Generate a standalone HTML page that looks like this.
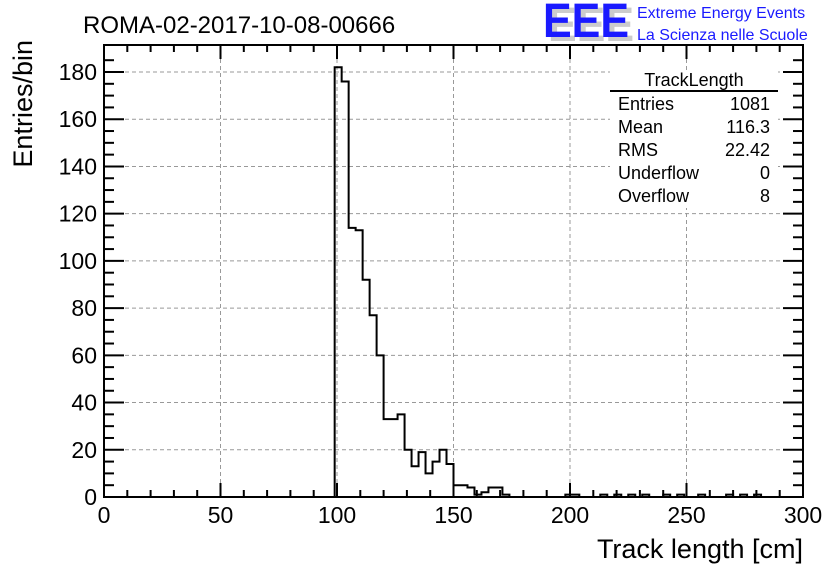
<!DOCTYPE html>
<html><head><meta charset="utf-8"><style>
body{margin:0;background:#fff}
svg{display:block;font-family:"Liberation Sans",sans-serif}
</style></head><body>
<svg id="c" width="836" height="572" viewBox="0 0 836 572">
<rect width="836" height="572" fill="#fff"/>
<text x="83" y="33" font-size="24">ROMA-02-2017-10-08-00666</text>
<g>
<text x="548" y="41" font-size="48" fill="#ccc" font-weight="bold" textLength="86" lengthAdjust="spacingAndGlyphs">EEE</text>
<text x="543" y="37" font-size="48" fill="#1a1aff" font-weight="bold" textLength="86" lengthAdjust="spacingAndGlyphs">EEE</text>
<text x="637" y="18" font-size="16" fill="#1a1aff">Extreme Energy Events</text>
<text x="637" y="40" font-size="16" fill="#1a1aff">La Scienza nelle Scuole</text>
</g>
<g id="grid"></g>
<g id="axes"></g>
<path id="hist" fill="none" stroke="#000" stroke-width="2"/>
<rect x="104" y="45" width="699" height="452" fill="none" stroke="#000" stroke-width="2"/>
<text x="32" y="40" font-size="27" transform="rotate(-90 32 40)" text-anchor="end">Entries/bin</text>
<text x="803" y="558" font-size="27" text-anchor="end">Track length [cm]</text>
<g font-size="18">
<rect x="610" y="70" width="168" height="138" fill="#fff"/>
<text x="694" y="86" text-anchor="middle">TrackLength</text>
<line x1="610" y1="91" x2="778" y2="91" stroke="#000" stroke-width="2"/>
<text x="618" y="110">Entries</text><text x="770" y="110" text-anchor="end">1081</text>
<text x="618" y="133">Mean</text><text x="770" y="133" text-anchor="end">116.3</text>
<text x="618" y="156">RMS</text><text x="770" y="156" text-anchor="end">22.42</text>
<text x="618" y="179">Underflow</text><text x="770" y="179" text-anchor="end">0</text>
<text x="618" y="202">Overflow</text><text x="770" y="202" text-anchor="end">8</text>
</g>
</svg>
<script>
const binStarts=[99,102,105,108,111,114,117,120,123,126,129,132,135,138,141,144,147,150,153,156,159,162,165,168,171,198,201,213,219,225,231,240,246,255,267,273,279];
const binCounts=[182,176,114,113,92,77,60,33,33,35,20,13,19,10,15,20,14,5,5,4,1,2,4,4,1,1,1,1,1,1,1,1,1,1,1,1,1];
const binWidth=3;
const xTicks=[0,50,100,150,200,250,300];
const yTicks=[0,20,40,60,80,100,120,140,160,180];
const X0=104,X1=803,Y0=497,Y1=72;
const xs=v=>X0+(v/300)*(X1-X0);
const ys=v=>Y0-(v/180)*(Y0-Y1);
const NS="http://www.w3.org/2000/svg";
const grid=document.getElementById('grid'),axes=document.getElementById('axes');
function mk(p,tag,attrs){const e=document.createElementNS(NS,tag);for(const k in attrs)e.setAttribute(k,attrs[k]);p.appendChild(e);return e;}
xTicks.forEach(t=>{
  if(t>0&&t<300){const g=mk(grid,'line',{x1:xs(t),x2:xs(t),y1:45,y2:497,stroke:'#999','stroke-dasharray':'4,3'});
  
  }
  const l=mk(axes,'text',{x:xs(t),y:523,'font-size':23,'text-anchor':'middle'});l.textContent=t;
  
  
});
yTicks.forEach(t=>{
  if(t>0){const g=mk(grid,'line',{x1:104,x2:803,y1:ys(t),y2:ys(t),stroke:'#999','stroke-dasharray':'4,3'});
  
  }
  const l=mk(axes,'text',{x:97,y:ys(t)+8,'font-size':23,'text-anchor':'end'});l.textContent=t;
  
  
});
for(let v=0;v<=300;v+=10){const L=v%50===0?14:7;
  mk(axes,'line',{x1:xs(v),x2:xs(v),y1:497,y2:497-L,stroke:'#000','stroke-width':2});
  mk(axes,'line',{x1:xs(v),x2:xs(v),y1:45,y2:45+L,stroke:'#000','stroke-width':2});}
for(let v=0;v<=185;v+=5){const L=v%20===0?20:10;const y=ys(v);if(y<45)continue;
  mk(axes,'line',{x1:104,x2:104+L,y1:y,y2:y,stroke:'#000','stroke-width':2});
  mk(axes,'line',{x1:803,x2:803-L,y1:y,y2:y,stroke:'#000','stroke-width':2});}
let d='M'+X0+','+Y0;
let curX=0,curV=0;
binStarts.forEach((s,i)=>{
  if(s!==curX){
    d+=' L'+xs(curX)+','+Y0+' L'+xs(s)+','+Y0;curV=0;
  }
  d+=' L'+xs(s)+','+ys(binCounts[i])+' L'+xs(s+binWidth)+','+ys(binCounts[i]);
  curX=s+binWidth;curV=binCounts[i];
});
d+=' L'+xs(curX)+','+Y0+' L'+X1+','+Y0;
document.getElementById('hist').setAttribute('d',d);
</script>
</body></html>
